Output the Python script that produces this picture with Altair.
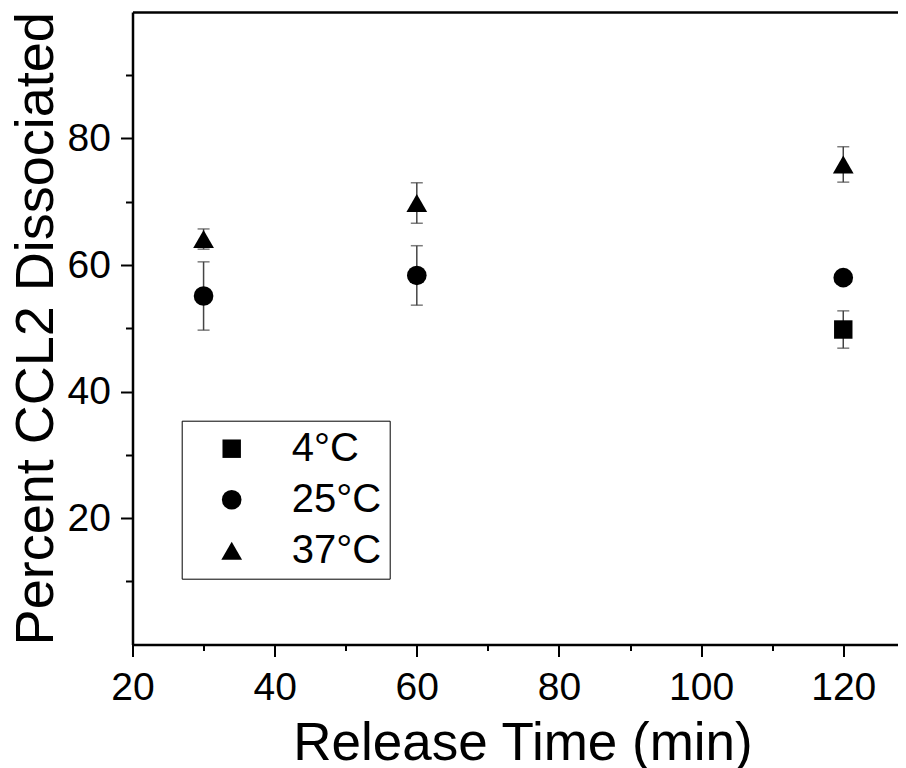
import altair as alt
import pandas as pd

# ---- data ----
temps = ["4°C", "25°C", "37°C"]
shapes = ["square", "circle", "triangle-up"]
sizes = [340, 430, 620]

time_4 = [120]
mean_4 = [49.8]
err_4 = [2.95]

time_25 = [30, 60, 120]
mean_25 = [55.1, 58.35, 58.0]
err_25 = [5.4, 4.7, 1.0]

time_37 = [30, 60, 120]
mean_37 = [64.1, 69.8, 75.9]
err_37 = [1.6, 3.2, 2.8]

x_ticks = [20, 30, 40, 50, 60, 70, 80, 90, 100, 110, 120]
y_ticks = [10, 20, 30, 40, 50, 60, 70, 80, 90]

rows = []
for t, times, means, errs in [("4°C", time_4, mean_4, err_4),
                              ("25°C", time_25, mean_25, err_25),
                              ("37°C", time_37, mean_37, err_37)]:
    for x, m, e in zip(times, means, errs):
        rows.append({"temp": t, "time": x, "mean": m, "lo": m - e, "hi": m + e})
df = pd.DataFrame(rows)

W, H = 765.5, 632.5
x_scale = alt.Scale(domain=[20, 127.7], nice=False, zero=False)
y_scale = alt.Scale(domain=[0, 100], nice=False, zero=False)

x_axis = alt.Axis(
    values=x_ticks,
    labelExpr="datum.value % 20 === 0 ? datum.label : ''",
    tickSize={"condition": {"test": "datum.value % 20 === 0", "value": 12}, "value": 6},
    labelPadding=12,
    labelFlush=False,
    labelOverlap=False,
    title="Release Time (min)",
    titlePadding=10,
    titleFontSize=53,
    titleX=390,
)
x_axis_top = alt.Axis(orient="top", labels=False, ticks=False, title=None)
y_axis = alt.Axis(
    values=y_ticks,
    labelExpr="datum.value % 20 === 0 ? datum.label : ''",
    tickSize={"condition": {"test": "datum.value % 20 === 0", "value": 12}, "value": 7},
    labelPadding=10,
    labelFlush=False,
    labelOverlap=False,
    title="Percent CCL2 Dissociated",
    titlePadding=4,
)

legend = alt.Legend(
    title=None,
    orient="none",
    legendX=49.2,
    legendY=408.7,
    strokeColor="black",
    padding=8,
    symbolOffset=22,
    labelOffset=40,
    rowPadding=11,
    labelFontSize=40,
    labelFont="Liberation Sans",
    labelColor="black",
    symbolFillColor="black",
    symbolStrokeColor="black",
    symbolStrokeWidth=0,
)

bars = alt.Chart(df).mark_rule(color="#444444", strokeWidth=1.5).encode(
    x=alt.X("time:Q", scale=x_scale, axis=x_axis_top),
    y=alt.Y("lo:Q", scale=y_scale, axis=None),
    y2="hi:Q",
)
cap_lo = alt.Chart(df).mark_tick(orient="horizontal", size=12, thickness=1.5, color="#444444").encode(
    x=alt.X("time:Q", scale=x_scale, axis=None),
    y=alt.Y("lo:Q", scale=y_scale, axis=None),
)
cap_hi = alt.Chart(df).mark_tick(orient="horizontal", size=12, thickness=1.5, color="#444444").encode(
    x=alt.X("time:Q", scale=x_scale, axis=None),
    y=alt.Y("hi:Q", scale=y_scale, axis=None),
)
points = alt.Chart(df).mark_point(filled=True, opacity=1, color="black").encode(
    x=alt.X("time:Q", scale=x_scale, axis=x_axis),
    y=alt.Y("mean:Q", scale=y_scale, axis=y_axis),
    shape=alt.Shape("temp:N", scale=alt.Scale(domain=temps, range=shapes), legend=legend),
    size=alt.Size("temp:N", scale=alt.Scale(domain=temps, range=sizes), legend=legend),
)

chart = (
    alt.layer(bars, cap_lo, cap_hi, points)
    .resolve_axis(x="independent", y="independent")
    .properties(
        width=W,
        height=H,
        autosize=alt.AutoSizeParams(type="none"),
        padding={"left": 124.5, "top": 4, "right": 0, "bottom": 123.5},
    )
    .configure_view(stroke=None)
    .configure_axis(
        grid=False,
        domainColor="black",
        domainWidth=2.5,
        tickColor="black",
        tickWidth=2,
        labelFont="Liberation Sans",
        labelFontSize=39,
        labelColor="black",
        titleFont="Liberation Sans",
        titleFontSize=54,
        titleFontWeight="normal",
        titleColor="black",
    )
)

chart.save("out.html", embed_options={"renderer": "svg", "actions": False})
